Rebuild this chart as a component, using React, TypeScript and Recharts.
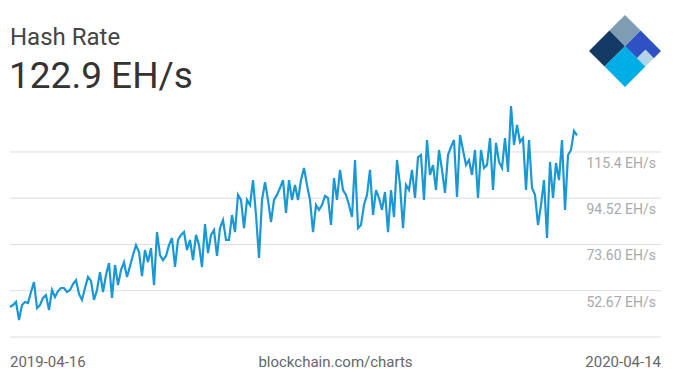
import React from "react";
import { LineChart, Line, XAxis, YAxis, CartesianGrid } from "recharts";

const TITLE = "Hash Rate";
const CURRENT = "122.9 EH/s";
const START_DATE = "2019-04-16";
const END_DATE = "2020-04-14";
const SOURCE = "blockchain.com/charts";

const yTicks = [31.75, 52.67, 73.6, 94.52, 115.4];
const yLabels = ["", "52.67 EH/s", "73.60 EH/s", "94.52 EH/s", "115.4 EH/s"];

const hashRate = [
  45.3, 46.2, 47.6, 39.4, 46.2, 47.6, 47.1, 52.1, 56.6, 44.8,
  46.2, 49.4, 50.7, 43.9, 53.0, 49.8, 52.5, 53.9, 53.9, 52.1,
  53.0, 55.7, 57.5, 51.2, 48.5, 53.9, 58.9, 57.1, 48.5, 53.0,
  61.1, 52.1, 59.8, 65.2, 49.4, 64.3, 55.2, 62.0, 65.6, 58.9,
  63.8, 68.8, 73.3, 70.2, 59.3, 71.1, 65.6, 72.0, 55.2, 79.2,
  68.8, 66.5, 68.4, 73.3, 76.5, 63.4, 75.6, 77.9, 79.2, 71.1,
  75.6, 66.5, 77.9, 73.3, 63.4, 82.8, 69.7, 77.9, 80.1, 68.4,
  81.0, 84.6, 75.6, 75.6, 86.9, 79.2, 96.0, 93.7, 81.0, 93.7,
  91.4, 102.7, 86.9, 67.5, 93.7, 101.8, 93.7, 83.7, 93.7, 96.0,
  99.1, 102.7, 87.8, 102.7, 93.7, 100.5, 93.7, 102.7, 108.2, 100.5,
  93.7, 79.2, 91.4, 89.2, 91.4, 95.5, 94.6, 82.4, 103.6, 93.7,
  107.3, 98.2, 96.0, 91.4, 86.0, 111.8, 81.0, 82.4, 91.4, 96.0,
  107.3, 86.9, 98.2, 94.6, 89.2, 97.3, 79.2, 98.2, 86.0, 111.8,
  100.5, 81.0, 100.5, 98.2, 107.3, 94.6, 113.1, 114.0, 93.7, 120.8,
  105.0, 109.5, 98.2, 116.3, 107.3, 96.9, 114.0, 117.7, 120.8, 95.1,
  123.1, 116.3, 109.5, 111.8, 105.0, 116.3, 94.6, 116.3, 108.2, 109.5,
  121.7, 98.2, 119.5, 110.9, 108.2, 121.7, 106.4, 136.2, 118.6, 127.6,
  119.9, 121.7, 98.2, 120.8, 99.1, 96.0, 82.4, 91.4, 102.7, 76.5,
  110.9, 94.6, 110.4, 102.7, 120.8, 89.2, 114.0, 116.3, 124.9, 122.9,
];

const data = hashRate.map((v, i) => ({ i, v }));

const FONT = "Roboto, 'Noto Sans', sans-serif";

const YTick = (props: any) => {
  const { y, payload } = props;
  const idx = yTicks.indexOf(payload.value);
  const label = idx >= 0 ? yLabels[idx] : "";
  if (!label) return <g />;
  return (
    <text x={656} y={y + 16} textAnchor="end" fontSize={14} fill="#aaaaaa" fontFamily={FONT}>
      {label}
    </text>
  );
};

const d = 36 / 3;
const P = (a: number, b: number) => `${625 + (a - b) * d},${15 + (a + b) * d}`;
const poly = (pts: [number, number][]) => pts.map(([a, b]) => P(a, b)).join(" ");

const Logo = () => (
  <g>
    <polygon points={poly([[0, 0], [1.3, 0], [1.3, 1.3], [0, 1.3]])} fill="#7d9db3" />
    <polygon points={poly([[0, 1.3], [1.3, 1.3], [1.3, 3], [0, 3]])} fill="#143a63" />
    <polygon points={poly([[1.3, 0], [3, 0], [3, 0.6], [2.3, 0.6], [2.3, 1.3], [1.3, 1.3]])} fill="#2f52c2" />
    <polygon points={poly([[2.3, 0.6], [3, 0.6], [3, 1.3], [2.3, 1.3]])} fill="#b4d4e8" />
    <polygon points={poly([[1.3, 1.3], [3, 1.3], [3, 3], [1.3, 3]])} fill="#00aee6" />
  </g>
);

export default function App() {
  return (
    <div style={{ position: "absolute", left: 0, top: 0, width: 675, height: 385, background: "#fff", fontFamily: FONT }}>
      <LineChart
        width={675}
        height={385}
        data={data}
        margin={{ top: 105.75, right: 14, bottom: 48, left: 10 }}
      >
        <CartesianGrid vertical={false} stroke="#dddddd" strokeWidth={1} horizontalValues={yTicks} />
        <XAxis dataKey="i" type="number" domain={[0, 217]} hide />
        <YAxis
          type="number"
          domain={[31.75, 136.3]}
          ticks={yTicks}
          orientation="right"
          mirror
          width={80}
          axisLine={false}
          tickLine={false}
          tick={<YTick />}
          interval={0}
          allowDataOverflow
        />
        <Line
          type="linear"
          dataKey="v"
          stroke="#1a98d5"
          strokeWidth={2.2}
          dot={false}
          isAnimationActive={false}
        />
      </LineChart>
      <svg width={675} height={385} style={{ position: "absolute", left: 0, top: 0, pointerEvents: "none" }}>
        <text x={10} y={45} fontSize={24} fill="#444444" fontFamily={FONT}>{TITLE}</text>
        <text x={9} y={88} fontSize={37} fill="#333333" fontFamily={FONT}>{CURRENT}</text>
        <Logo />
        <text x={10} y={367} fontSize={15} fill="#666666" fontFamily={FONT}>{START_DATE}</text>
        <text x={335.5} y={367} fontSize={15} fill="#666666" fontFamily={FONT} textAnchor="middle">{SOURCE}</text>
        <text x={661} y={367} fontSize={15} fill="#666666" fontFamily={FONT} textAnchor="end">{END_DATE}</text>
      </svg>
    </div>
  );
}
